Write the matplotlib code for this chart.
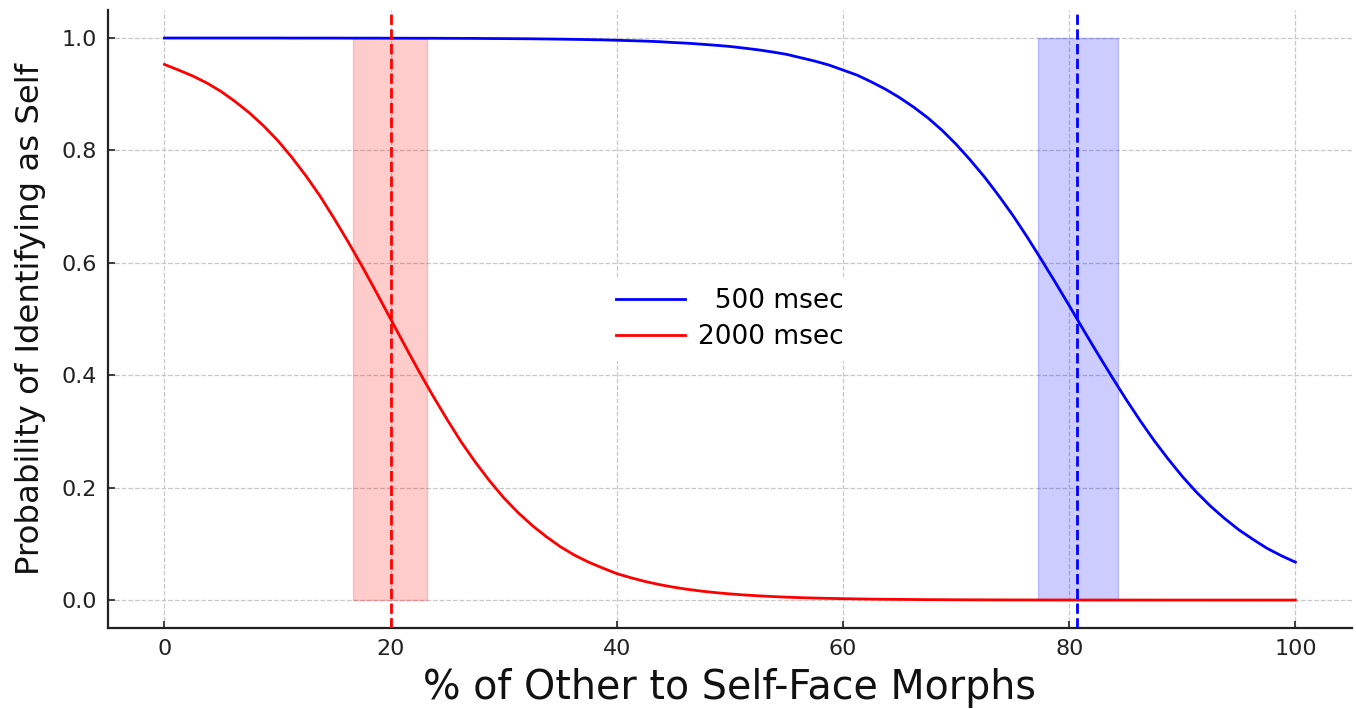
import matplotlib
matplotlib.use("Agg")
import matplotlib.pyplot as plt

# Data (% morph, probability of "self" response)
morph_pct = [0, 1.25, 2.5, 3.75, 5, 6.25, 7.5, 8.75, 10, 11.25, 12.5, 13.75, 15, 16.25,
             17.5, 18.75, 20, 21.25, 22.5, 23.75, 25, 26.25, 27.5, 28.75, 30, 31.25, 32.5,
             33.75, 35, 36.25, 37.5, 38.75, 40, 41.25, 42.5, 43.75, 45, 46.25, 47.5, 48.75,
             50, 51.25, 52.5, 53.75, 55, 56.25, 57.5, 58.75, 60, 61.25, 62.5, 63.75, 65,
             66.25, 67.5, 68.75, 70, 71.25, 72.5, 73.75, 75, 76.25, 77.5, 78.75, 80, 81.25,
             82.5, 83.75, 85, 86.25, 87.5, 88.75, 90, 91.25, 92.5, 93.75, 95, 96.25, 97.5,
             98.75, 100]

p_500 = [1.0, 1.0, 1.0, 1.0, 1.0, 1.0, 1.0, 1.0, 1.0, 0.9999, 0.9999, 0.9999, 0.9999,
         0.9998, 0.9998, 0.9998, 0.9997, 0.9997, 0.9996, 0.9996, 0.9995, 0.9994, 0.9993,
         0.9991, 0.999, 0.9988, 0.9986, 0.9983, 0.998, 0.9976, 0.9972, 0.9967, 0.996,
         0.9953, 0.9945, 0.9935, 0.992, 0.9908, 0.989, 0.9871, 0.985, 0.9821, 0.979,
         0.9752, 0.971, 0.965, 0.959, 0.952, 0.943, 0.934, 0.922, 0.909, 0.894, 0.877,
         0.858, 0.836, 0.811, 0.783, 0.753, 0.720, 0.685, 0.647, 0.607, 0.566, 0.524,
         0.481, 0.439, 0.398, 0.358, 0.320, 0.284, 0.251, 0.220, 0.192, 0.167, 0.145,
         0.125, 0.108, 0.092, 0.079, 0.0675]

p_2000 = [0.953, 0.943, 0.9325, 0.920, 0.905, 0.887, 0.867, 0.844, 0.818, 0.788, 0.755,
          0.719, 0.679, 0.637, 0.593, 0.547, 0.5, 0.453, 0.407, 0.363, 0.321, 0.281, 0.245,
          0.212, 0.182, 0.156, 0.133, 0.113, 0.095, 0.080, 0.0675, 0.057, 0.047, 0.0397,
          0.0331, 0.0276, 0.023, 0.0191, 0.0159, 0.0132, 0.011, 0.0091, 0.0076, 0.0063,
          0.0052, 0.0043, 0.0036, 0.003, 0.0025, 0.0021, 0.0017, 0.0014, 0.0012, 0.001,
          0.0008, 0.0007, 0.00055, 0.00046, 0.00038, 0.00032, 0.00026, 0.00022, 0.00018,
          0.00015, 0.00012, 0.0001, 0.00008, 0.00007, 0.00006, 0.00005, 0.00004, 0.00003,
          0.00003, 0.00002, 0.00002, 0.00001, 0.00001, 0.00001, 0.00001, 0.0, 0.0]

series_labels = ["  500 msec", "2000 msec"]
thresholds = [80.7, 20.0]
bands = [(77.2, 84.3), (16.7, 23.2)]
colors = ["blue", "red"]

xticks = [0, 20, 40, 60, 80, 100]
yticks = [0.0, 0.2, 0.4, 0.6, 0.8, 1.0]

fig = plt.figure(figsize=(13.56, 7.09), dpi=100)
ax = fig.add_axes([0.0796, 0.114, 0.9174, 0.872])

for yvals, lab, col in zip([p_500, p_2000], series_labels, colors):
    ax.plot(morph_pct, yvals, color=col, lw=2, label=lab, zorder=3)

for (lo, hi), thr, col in zip(bands, thresholds, colors):
    ax.fill_between([lo, hi], [0, 0], [1, 1], color=col, alpha=0.2, zorder=1)
    ax.axvline(thr, color=col, ls="--", lw=2, zorder=4)

ax.set_xlim(-5, 105)
ax.set_ylim(-0.05, 1.05)
ax.set_xticks(xticks)
ax.set_yticks(yticks)
ax.set_xticklabels([str(t) for t in xticks])
ax.set_yticklabels([f"{t:.1f}" for t in yticks])
ax.tick_params(direction="in", length=5, width=1.2, labelsize=16, colors="#222222", pad=8)
ax.grid(True, ls="--", color="#c8c8c8", lw=0.9, zorder=0)
ax.set_axisbelow(True)

for s in ["top", "right"]:
    ax.spines[s].set_visible(False)
for s in ["left", "bottom"]:
    ax.spines[s].set_linewidth(1.6)
    ax.spines[s].set_color("#222222")

ax.set_xlabel("% of Other to Self-Face Morphs", fontsize=28.5, color="#111111", labelpad=6)
ax.set_ylabel("Probability of Identifying as Self", fontsize=23.3, color="#111111", labelpad=11)

leg = ax.legend(loc="center", fontsize=19, frameon=True, framealpha=1.0,
                facecolor="white", edgecolor="none", handlelength=2.6,
                handletextpad=0.5, labelspacing=0.4)

fig.savefig("out.png", dpi=100)
